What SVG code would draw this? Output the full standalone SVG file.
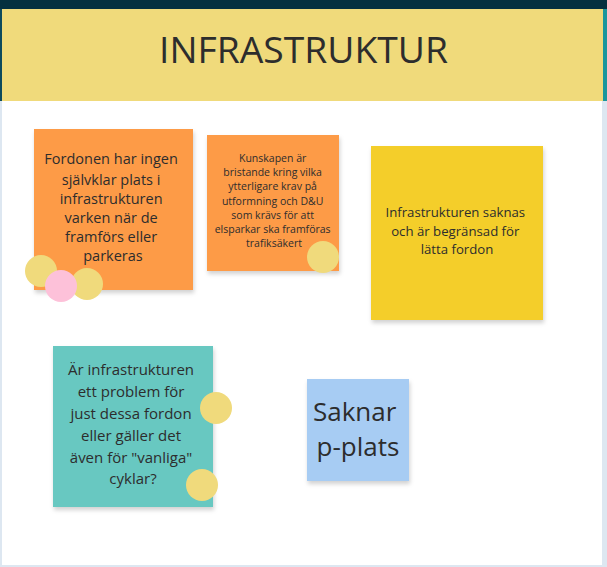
<svg xmlns="http://www.w3.org/2000/svg" width="607" height="567" viewBox="0 0 607 567">
<defs>
<filter id="sh" x="-10%" y="-10%" width="130%" height="130%">
<feDropShadow dx="1" dy="3" stdDeviation="2" flood-color="#000" flood-opacity="0.18"/>
</filter>
</defs>
<style>
.t{font-family:"Open Sans","Noto Sans","Liberation Sans",sans-serif;fill:#2d2d2d;text-anchor:middle}
.dotY{fill:#f0da7c}
.dotP{fill:#fdc1d9}
</style>
<rect x="0" y="0" width="607" height="567" fill="#dde7f1"/>
<rect x="2" y="101" width="600" height="464" fill="#ffffff"/>
<rect x="0" y="0" width="607" height="9" fill="#05303f"/>
<rect x="0" y="9" width="2" height="92" fill="#0e4a5c"/>
<rect x="2" y="9" width="601" height="92" fill="#f0da7b"/>
<rect x="603" y="9" width="4" height="92" fill="#1a969c"/>
<g id="header">
<text class="t" x="303.5" y="63" font-size="36" textLength="289" lengthAdjust="spacingAndGlyphs">INFRASTRUKTUR</text>
</g>
<g id="note1">
<rect x="34" y="129" width="159" height="161" fill="#fd9b47" filter="url(#sh)"/>
<text class="t" font-size="14.5">
<tspan x="113" y="164">Fordonen har ingen</tspan>
<tspan x="113" y="185">självklar plats i</tspan>
<tspan x="113" y="204">infrastrukturen</tspan>
<tspan x="113" y="223">varken när de</tspan>
<tspan x="113" y="242">framförs eller</tspan>
<tspan x="113" y="261">parkeras</tspan>
</text>
<circle class="dotY" cx="41" cy="271" r="16"/>
<circle class="dotY" cx="87" cy="284" r="16"/>
<circle class="dotP" cx="61" cy="286" r="16"/>
</g>
<g id="note2">
<rect x="207" y="135" width="132" height="136" fill="#fd9b47" filter="url(#sh)"/>
<text class="t" font-size="10.5">
<tspan x="274" y="162">Kunskapen är</tspan>
<tspan x="274" y="176">bristande kring vilka</tspan>
<tspan x="274" y="190">ytterligare krav på</tspan>
<tspan x="274" y="205">utformning och D&amp;U</tspan>
<tspan x="274" y="219">som krävs för att</tspan>
<tspan x="274" y="233">elsparkar ska framföras</tspan>
<tspan x="274" y="247">trafiksäkert</tspan>
</text>
<circle class="dotY" cx="323" cy="257" r="16"/>
</g>
<g id="note3">
<rect x="371" y="146" width="172" height="174" fill="#f4ce2a" filter="url(#sh)"/>
<text class="t" font-size="13.2">
<tspan x="457" y="217">Infrastrukturen saknas</tspan>
<tspan x="457" y="236">och är begränsad för</tspan>
<tspan x="457" y="254">lätta fordon</tspan>
</text>
</g>
<g id="note4">
<rect x="53" y="346" width="160" height="161" fill="#68c8c1" filter="url(#sh)"/>
<text class="t" font-size="15">
<tspan x="133" y="375">Är infrastrukturen</tspan>
<tspan x="133" y="397">ett problem för</tspan>
<tspan x="133" y="419">just dessa fordon</tspan>
<tspan x="133" y="441">eller gäller det</tspan>
<tspan x="133" y="463">även för "vanliga"</tspan>
<tspan x="133" y="484">cyklar?</tspan>
</text>
<circle class="dotY" cx="216" cy="408" r="16"/>
<circle class="dotY" cx="202" cy="485" r="16"/>
</g>
<g id="note5">
<rect x="307" y="379" width="102" height="102" fill="#a7ccf3" filter="url(#sh)"/>
<text class="t" font-size="26">
<tspan x="358" y="421">Saknar</tspan>
<tspan x="358" y="456">p-plats</tspan>
</text>
</g>
<g id="connectors"></g>
</svg>
